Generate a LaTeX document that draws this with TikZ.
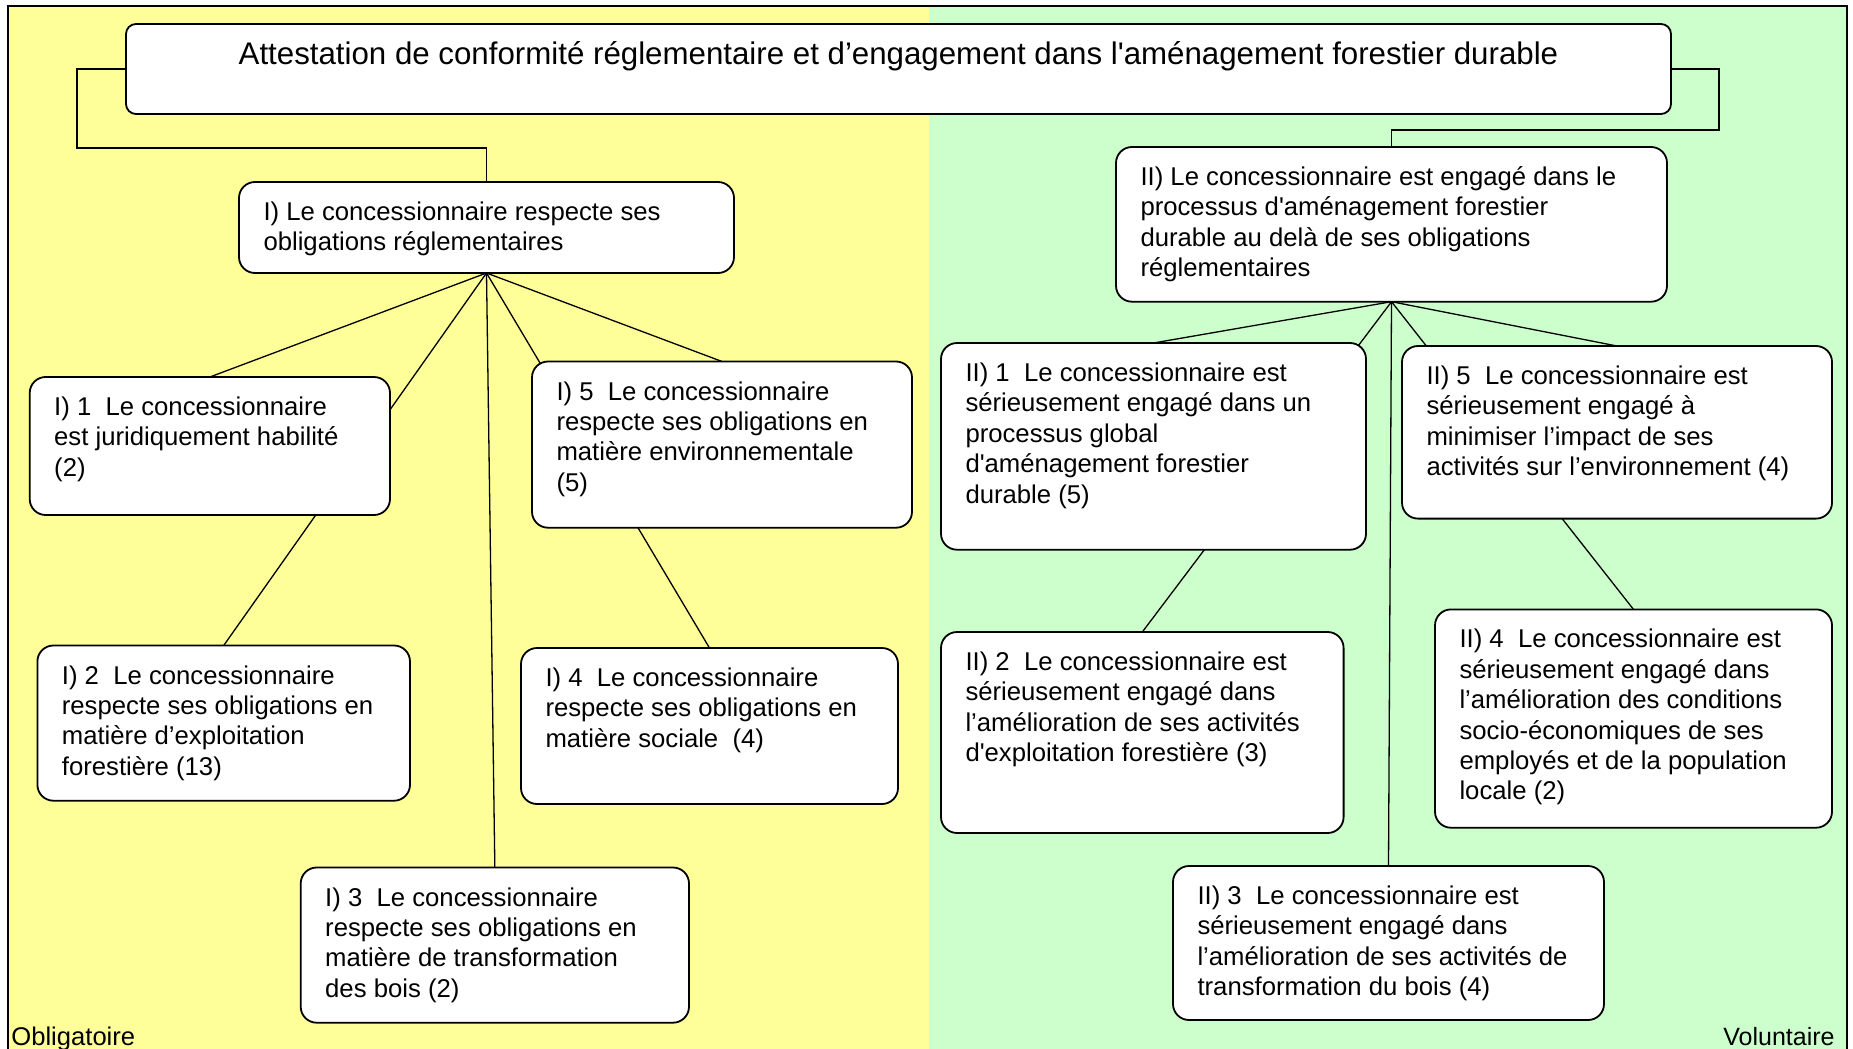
\documentclass[tikz,border=0pt]{standalone}
\usepackage{fontspec}
\setmainfont{Liberation Sans}[Ligatures=TeXOff]
\usetikzlibrary{calc}
\definecolor{oblig}{HTML}{FFFF99}
\definecolor{volon}{HTML}{CCFFCC}
\pgfdeclarelayer{bg}
\pgfdeclarelayer{lines}
\pgfsetlayers{bg,lines,main}
\newcommand{\bodyfont}{\fontsize{12.85pt}{15.2pt}\selectfont}
\newcommand{\titlefont}{\fontsize{15.63pt}{18pt}\selectfont}
\tikzset{
  box/.style={draw, fill=white, rounded corners=8pt, line width=0.9pt,
    inner sep=0pt, outer sep=0pt, anchor=north west},
  txt/.style={inner sep=0pt, outer sep=0pt, anchor=base west},
  conn/.style={line width=0.65pt, line join=miter},
}
\newcommand{\mkbox}[6]{%
  \node[box, minimum width={(#4-#2)*0.5pt}, minimum height={(#5-#3)*0.5pt}] (#1) at (#2,#3) {};
  \node[txt] (#1t) at ({#2+24.5},{#3+38.5}) {\parbox[t]{260pt}{\bodyfont #6}};
}
\begin{document}
\begin{tikzpicture}[x=0.5pt, y=-0.5pt]
\useasboundingbox (0,0) rectangle (1853,1049);
\begin{pgfonlayer}{bg}
  \fill[white] (0,0) rectangle (1853,1049);
  \fill[oblig] (8,6) rectangle (929,1049);
  \fill[volon] (929,6) rectangle (1847,1049);
  \draw[line width=1.15pt] (8,1049) -- (8,6) -- (1847,6) -- (1847,1049);
\end{pgfonlayer}

% title
\node[box, rounded corners=5pt, minimum width={(1671-126)*0.5pt}, minimum height={(114-24)*0.5pt}] (T) at (126,24) {};
\node[inner sep=0pt, anchor=base] (Tt) at (898.5,64) {\titlefont Attestation de conformité réglementaire et d’engagement dans l'aménagement forestier durable};

% left side
\mkbox{I}{239}{182}{734}{273}{I) Le concessionnaire respecte ses\\obligations réglementaires}
\mkbox{Ia}{29.7}{377}{390}{515}{I) 1\ \ Le concessionnaire\\est juridiquement habilité\\(2)}
\mkbox{Ie}{532}{361.5}{912}{527.7}{I) 5\ \ Le concessionnaire\\respecte ses obligations en\\matière environnementale\\(5)}
\mkbox{Ib}{37.4}{645.5}{410}{800.7}{I) 2\ \ Le concessionnaire\\respecte ses obligations en\\matière d’exploitation\\forestière (13)}
\mkbox{Id}{521}{648}{898}{804}{I) 4\ \ Le concessionnaire\\respecte ses obligations en\\matière sociale\ \ (4)}
\mkbox{Ic}{300.7}{867.5}{689}{1022.7}{I) 3\ \ Le concessionnaire\\respecte ses obligations en\\matière de transformation\\des bois (2)}

% right side
\mkbox{II}{1116}{147}{1667}{301.7}{II) Le concessionnaire est engagé dans le\\processus d'aménagement forestier\\durable au delà de ses obligations\\réglementaires}
\mkbox{IIa}{941}{343}{1366}{549.7}{II) 1\ \ Le concessionnaire est\\sérieusement engagé dans un\\processus global\\d'aménagement forestier\\durable (5)}
\mkbox{IIe}{1402}{346}{1832}{518.6}{II) 5\ \ Le concessionnaire est\\sérieusement engagé à\\minimiser l’impact de ses\\activités sur l’environnement (4)}
\mkbox{IIb}{941}{632}{1343.6}{833}{II) 2\ \ Le concessionnaire est\\sérieusement engagé dans\\l’amélioration de ses activités\\d'exploitation forestière (3)}
\mkbox{IId}{1435}{609.4}{1832}{827.7}{II) 4\ \ Le concessionnaire est\\sérieusement engagé dans\\l’amélioration des conditions\\socio-économiques de ses\\employés et de la population\\locale (2)}
\mkbox{IIc}{1173}{866}{1604}{1020}{II) 3\ \ Le concessionnaire est\\sérieusement engagé dans\\l’amélioration de ses activités de\\transformation du bois (4)}

\node[inner sep=0pt, anchor=base west] (ob) at (11,1045) {\fontsize{12.8pt}{15pt}\selectfont Obligatoire};
\node[inner sep=0pt, anchor=base east] (vo) at (1835,1045) {\fontsize{12.5pt}{15pt}\selectfont Voluntaire};

\begin{pgfonlayer}{lines}
  \draw[conn] (T.west) -| (77,148) -| (I.north);
  \draw[conn] (T.east) -| (1719,130) -| (II.north);
  \foreach \c in {Ia,Ib,Ic,Id,Ie}{\draw[conn] (I.south) -- (\c.north);}
  \foreach \c in {IIa,IIb,IIc,IId,IIe}{\draw[conn] (II.south) -- (\c.north);}
\end{pgfonlayer}
\end{tikzpicture}
\end{document}
